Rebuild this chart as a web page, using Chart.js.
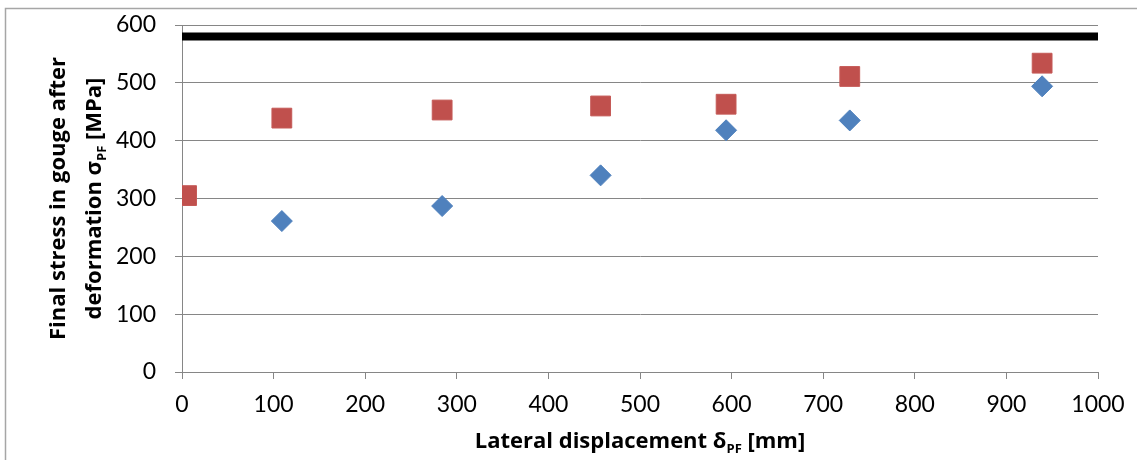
<!DOCTYPE html>
<html>
<head>
<meta charset="utf-8">
<script src="https://cdn.jsdelivr.net/npm/chart.js@4.4.0/dist/chart.umd.min.js"></script>
<style>
  html, body { margin: 0; padding: 0; background: #fff; }
  #wrap { width: 1137px; height: 460px; position: relative; }
</style>
</head>
<body>
<div id="wrap"><canvas id="stressChart"></canvas></div>
<script>
/* DATA */

// lateral displacement [mm] / final stress [MPa]
var blueX = [109, 284, 457, 594, 729, 939];
var blueY = [261, 287, 340, 418, 435, 494];

var redX = [5, 109, 284, 457, 594, 729, 939];
var redY = [305, 439, 453, 460, 463, 511, 534];

// horizontal limit line
var limitX = [0, 1000];
var limitY = [580, 580];

var xTicks = [0, 100, 200, 300, 400, 500, 600, 700, 800, 900, 1000];
var yTicks = [0, 100, 200, 300, 400, 500, 600];

var xTitle = [{ t: 'Lateral displacement δ' }, { t: 'PF', sub: true }, { t: ' [mm]' }];
var yTitle1 = [{ t: 'Final stress in gouge after' }];
var yTitle2 = [{ t: 'deformation σ' }, { t: 'PF', sub: true }, { t: ' [MPa]' }];

function pairs(xs, ys) {
    return xs.map((x, i) => ({ x: x, y: ys[i] }));
}

/* TEXT WITH SUBSCRIPTS */

var TITLE_SIZE = 22;
var TICK_FONT = 'Lato, "Open Sans", sans-serif';
var TITLE_FONT = '"Open Sans", Lato, sans-serif';

function partFont(p) {
    var size = p.sub ? Math.round(TITLE_SIZE * 0.6) : TITLE_SIZE;
    return 'bold ' + size + 'px ' + TITLE_FONT;
}

function richWidth(ctx, parts) {
    var w = 0;
    parts.forEach(p => { ctx.font = partFont(p); w += ctx.measureText(p.t).width; });
    return w;
}

// draws the parts centered on (cx, baseline y) in the current transform
function drawRich(ctx, parts, cx, y) {
    var x = cx - richWidth(ctx, parts) / 2;
    ctx.textAlign = 'left';
    ctx.textBaseline = 'alphabetic';
    ctx.fillStyle = '#000';
    parts.forEach(p => {
        ctx.font = partFont(p);
        ctx.fillText(p.t, x, p.sub ? y + TITLE_SIZE * 0.22 : y);
        x += ctx.measureText(p.t).width;
    });
}

var titlesPlugin = {
    id: 'axisTitles',
    beforeDraw(chart) {
        var ctx = chart.ctx;
        ctx.save();
        ctx.fillStyle = '#fff';
        ctx.fillRect(0, 0, chart.width, chart.height);
        // outer frame
        ctx.strokeStyle = '#a6a6a6';
        ctx.lineWidth = 1.5;
        ctx.beginPath();
        ctx.moveTo(5.5, chart.height + 5);
        ctx.lineTo(5.5, 8.5);
        ctx.lineTo(chart.width + 5, 8.5);
        ctx.stroke();
        ctx.restore();
    },
    afterDraw(chart) {
        var ctx = chart.ctx;
        var a = chart.chartArea;
        ctx.save();
        drawRich(ctx, xTitle, (a.left + a.right) / 2, 448);
        var cy = (a.top + a.bottom) / 2;
        ctx.translate(0, cy);
        ctx.rotate(-Math.PI / 2);
        drawRich(ctx, yTitle1, 0, 65);
        drawRich(ctx, yTitle2, 0, 101);
        ctx.restore();
    }
};

/* CHART */

var ctx = document.getElementById('stressChart').getContext('2d');

var stressChart = new Chart(ctx, {
    type: 'scatter',
    data: {
        datasets: [
            {
                type: 'line',
                data: pairs(limitX, limitY),
                borderColor: '#000',
                borderWidth: 8,
                borderCapStyle: 'butt',
                pointRadius: 0,
                fill: false,
                order: 3
            },
            {
                data: pairs(redX, redY),
                pointStyle: 'rect',
                pointRadius: 14,
                backgroundColor: '#C0504D',
                borderColor: '#C55A57',
                borderWidth: 1,
                order: 2
            },
            {
                data: pairs(blueX, blueY),
                pointStyle: 'rectRot',
                pointRadius: 10.5,
                backgroundColor: '#4F81BD',
                borderColor: '#4F81BD',
                borderWidth: 1,
                order: 1
            }
        ]
    },
    options: {
        responsive: true,
        maintainAspectRatio: false,
        animation: false,
        layout: {
            padding: { left: 0, top: 25, right: 39, bottom: 0 }
        },
        scales: {
            x: {
                type: 'linear',
                min: 0,
                max: 1000,
                afterFit: function (scale) {
                    scale.height = 88;
                    scale.paddingLeft = 0;
                    scale.paddingRight = 0;
                },
                afterBuildTicks: function (scale) { scale.ticks = xTicks.map(v => ({ value: v })); },
                grid: {
                    drawOnChartArea: false,
                    drawTicks: true,
                    tickLength: 7,
                    color: '#868686'
                },
                border: { color: '#868686' },
                ticks: {
                    color: '#000',
                    padding: 12,
                    maxRotation: 0,
                    font: { family: TICK_FONT, size: 23 },
                    callback: function (value) { return String(value); }
                }
            },
            y: {
                min: 0,
                max: 600,
                afterFit: function (scale) {
                    scale.width = 182;
                    scale.paddingTop = 0;
                    scale.paddingBottom = 0;
                },
                afterBuildTicks: function (scale) { scale.ticks = yTicks.map(v => ({ value: v })); },
                grid: {
                    drawTicks: true,
                    tickLength: 7,
                    color: '#868686'
                },
                border: { color: '#868686' },
                ticks: {
                    color: '#000',
                    padding: 19,
                    font: { family: TICK_FONT, size: 23 },
                    callback: function (value) { return String(value); }
                }
            }
        },
        plugins: {
            legend: { display: false },
            tooltip: { enabled: false }
        }
    },
    plugins: [titlesPlugin]
});
</script>
</body>
</html>
